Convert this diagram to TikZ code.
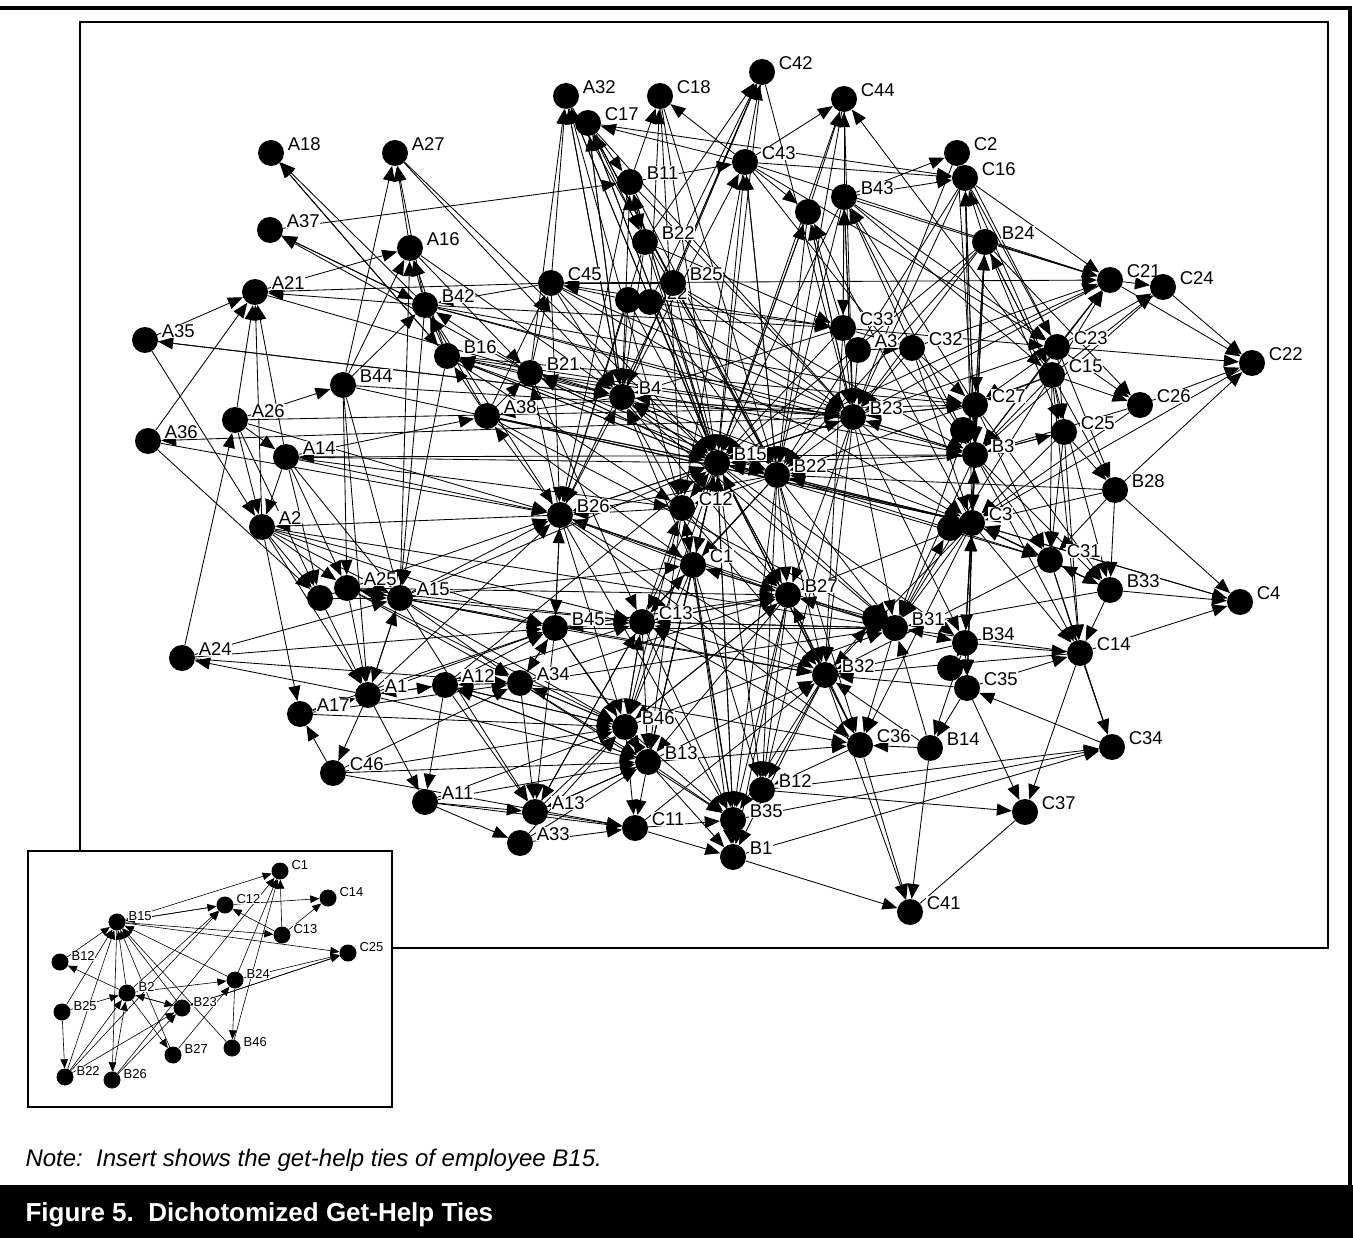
\documentclass[tikz,border=0pt]{standalone}
\usepackage{fontspec}
\setmainfont{Liberation Sans}
\usetikzlibrary{arrows.meta}
\pgfdeclarelayer{edges}
\pgfdeclarelayer{labels}
\pgfsetlayers{edges,labels,main}
% main-graph actor: dot plus a white-backed label to its upper right
\newcommand\mnode[4]{\node[dot] (#1) at (#2,#3) {};%
  \begin{pgfonlayer}{labels}\node[lab] at (#2+16,#3-9) {#4};\end{pgfonlayer}}
% insert actor: smaller dot and label
\newcommand\inode[4]{\node[idot] (#1) at (#2,#3) {};%
  \begin{pgfonlayer}{labels}\node[ilab] at (#2+11,#3-6) {#4};\end{pgfonlayer}}
\begin{document}
\begin{tikzpicture}[x=1pt,y=-1pt,
  dot/.style={circle,fill=black,minimum size=26pt,inner sep=0pt},
  idot/.style={circle,fill=black,minimum size=17pt,inner sep=0pt},
  lab/.style={anchor=west,fill=white,inner sep=0.6pt,font=\fontsize{18.5}{18.5}\selectfont},
  ilab/.style={anchor=west,fill=white,inner sep=0.4pt,font=\fontsize{13}{13}\selectfont},
  tie/.style={line width=0.85pt,-{Triangle[length=15pt,width=12pt]}},
  itie/.style={line width=0.6pt,-{Triangle[length=9pt,width=7.5pt]}}]
\useasboundingbox (0,0) rectangle (1353,1238);

% ---------- main network actors ----------
\mnode{A18}{271}{153}{A18}
\mnode{A27}{395}{153}{A27}
\mnode{A37}{270}{230}{A37}
\mnode{A16}{410}{248}{A16}
\mnode{A21}{255}{292}{A21}
\mnode{B42}{425}{305}{B42}
\mnode{A35}{145}{340}{A35}
\mnode{B16}{447}{356}{B16}
\mnode{B44}{343}{385}{B44}
\mnode{A26}{235}{420}{A26}
\mnode{A36}{148}{441}{A36}
\mnode{A14}{286}{457}{A14}
\mnode{A38}{487}{416}{A38}
\mnode{B21}{530}{373}{B21}
\mnode{C45}{551}{283}{C45}
\mnode{A32}{566}{96}{A32}
\mnode{C17}{588}{123}{C17}
\mnode{C18}{660}{96}{C18}
\mnode{C42}{762}{72}{C42}
\mnode{C44}{844}{99}{C44}
\mnode{B11}{630}{182}{B11}
\mnode{C43}{745}{162}{C43}
\mnode{B43}{844}{197}{B43}
\node[dot] (U1) at (808,212) {};
\mnode{C2}{957}{153}{C2}
\mnode{C16}{965}{178}{C16}
\mnode{B24}{985}{242}{B24}
\mnode{B22}{645}{242}{B22}
\mnode{B25}{673}{283}{B25}
\mnode{X22}{650}{302}{22}
\node[dot] (U2) at (628,300) {};
\mnode{C33}{843}{328}{C33}
\mnode{A31}{858}{350}{A3}
\mnode{C32}{912}{348}{C32}
\mnode{C23}{1057}{347}{C23}
\mnode{C15}{1052}{375}{C15}
\mnode{C21}{1110}{280}{C21}
\mnode{C24}{1163}{287}{C24}
\mnode{C22}{1252}{363}{C22}
\mnode{C26}{1140}{405}{C26}
\mnode{C25}{1064}{432}{C25}
\mnode{C27}{975}{405}{C27}
\node[dot] (U3) at (963,430) {};
\mnode{B23}{853}{417}{B23}
\mnode{B3}{975}{455}{B3}
\mnode{B15}{717}{463}{B15}
\mnode{B2}{777}{475}{B22}
\mnode{B4}{622}{397}{B4}
\mnode{B26}{560}{515}{B26}
\mnode{C12}{682}{508}{C12}
\mnode{C1}{693}{565}{C1}
\mnode{C3}{972}{523}{C3}
\node[dot] (U4) at (950,528) {};
\mnode{B28}{1115}{490}{B28}
\mnode{C31}{1050}{560}{C31}
\mnode{B33}{1110}{590}{B33}
\mnode{C4}{1240}{602}{C4}
\mnode{C14}{1080}{653}{C14}
\mnode{C34}{1112}{747}{C34}
\mnode{C37}{1025}{812}{C37}
\mnode{C41}{910}{912}{C41}
\mnode{B14}{930}{748}{B14}
\mnode{C36}{860}{745}{C36}
\mnode{C35}{967}{688}{C35}
\node[dot] (U5) at (950,668) {};
\mnode{B34}{965}{643}{B34}
\mnode{B31}{895}{628}{B31}
\node[dot] (U6) at (875,618) {};
\mnode{B32}{825}{675}{B32}
\mnode{B27}{788}{595}{B27}
\mnode{C13}{642}{622}{C13}
\mnode{B45}{555}{628}{B45}
\mnode{A34}{520}{683}{A34}
\mnode{A12}{445}{685}{A12}
\mnode{B46}{625}{727}{B46}
\mnode{B13}{648}{762}{B13}
\mnode{B12}{762}{790}{B12}
\mnode{B35}{733}{820}{B35}
\mnode{B1}{733}{857}{B1}
\mnode{C11}{635}{828}{C11}
\mnode{A13}{535}{812}{A13}
\mnode{A33}{520}{843}{A33}
\mnode{A11}{425}{802}{A11}
\mnode{C46}{333}{773}{C46}
\mnode{A17}{300}{714}{A17}
\mnode{A1}{368}{695}{A1}
\mnode{A24}{182}{658}{A24}
\mnode{A15}{400}{598}{A15}
\mnode{A25}{347}{588}{A25}
\node[dot] (U7) at (320,598) {};
\mnode{A2}{262}{527}{A2}

% ---------- insert actors ----------
\inode{iC1}{280}{871}{C1}
\inode{iC14}{328}{898}{C14}
\inode{iC12}{225}{905}{C12}
\inode{iB15}{117}{922}{B15}
\inode{iC13}{282}{935}{C13}
\inode{iC25}{348}{953}{C25}
\inode{iB12}{60}{962}{B12}
\inode{iB24}{235}{980}{B24}
\inode{iB2}{127}{993}{B2}
\inode{iB25}{62}{1012}{B25}
\inode{iB23}{182}{1008}{B23}
\inode{iB27}{173}{1055}{B27}
\inode{iB46}{232}{1048}{B46}
\inode{iB22}{65}{1077}{B22}
\inode{iB26}{112}{1080}{B26}

\begin{pgfonlayer}{edges}
% frames
\draw[line width=1.3pt] (80,22) rectangle (1328,948);
\draw[line width=1.8pt,fill=white] (28,851) rectangle (392,1107);

% get-help ties, arrow at the actor asked for help
\foreach \fa/\fb in {
 B42/A18, B16/A18, A16/A27, B44/A27, B42/A27, A27/B4, A37/B11, B42/A37, B21/A37,
 A21/A16, B42/A16, B44/A16, B16/A16, A15/A16, B42/A21, C45/A21, A26/A21, A36/A21,
 A14/A21, A2/A21, A35/A21, B4/A35, A35/A2, B23/A36, A36/U7, A26/B44, A26/A2, A26/A14,
 A24/A26, A26/C27, B15/A14, A14/A2, B26/A2, A2/A17, A2/A1, A1/A24, A24/A15, A24/B45,
 C46/A17, A1/C46, A17/A1, C46/B13, C46/C11, A1/A11, A11/A33, A12/A11, A11/A13,
 A1/A12, B46/A12, A34/A12, B13/A12, B45/A34, B46/A34, A15/A34, A25/A34, B45/A13,
 A34/A13, A12/A13, B13/A13, C13/A13, A15/A13, A33/C11, A33/B13, B13/C11, A13/C11,
 B46/C11, B13/B35, B46/B35, C13/B35, B27/B35, B32/B35, A34/B35, C1/B35, B15/B35,
 C12/B35, B26/B35, B35/B1, C11/B1, B13/B1, B27/B1, B32/B1, C1/B1, B32/B12, C36/B12,
 B27/B12, C1/B12, B15/B12, B2/B12, B12/C37, B12/C34, B35/C34, B1/C41, B1/C34,
 C36/C41, B14/C41, B32/C41, B32/C36, B31/C36, C3/C36, B15/C36, A34/C36, C35/B14,
 B34/B14, B14/C36, B34/C35, C3/C35, B3/C35, C35/C37, C35/C14, B31/B34, C3/B34,
 B3/B34, B23/B34, B15/B34, B2/B31, B23/B31, B15/B31, C3/B31, B27/B31, C13/B31,
 B4/B31, B15/B32, B2/B32, C12/B32, B26/B32, B23/B32, C33/B32, B33/C14, C3/C14,
 B3/C14, C31/C14, C25/C14, C15/C14, B34/C14, C14/C37, C14/C34, C14/C4, B28/B33,
 C31/B33, B33/C31, C3/B33, C27/B33, C15/B33, B3/B33, B33/C4, C3/C31, B3/C31,
 C15/C31, C27/C31, B2/C31, B15/C31, C31/C34, C3/C4, C15/B28, C25/B28, C23/B28,
 B28/C4, B28/C22, C15/C26, C23/C26, B24/C26, C26/C22, C15/C25, C23/C25, B24/C25,
 B3/C25, B24/C15, B43/C15, C16/C15, C43/C23, C33/C23, B43/C23, C16/C23, B43/C21,
 C16/C21, B24/C21, C43/C21, C15/C21, C23/C21, C32/C21, C45/C21, C21/C24, C23/C24,
 C15/C24, C21/C22, C24/C22, C23/C22, C3/B24, B3/B24, C27/B24, C15/B24, B24/C16,
 B43/C2, B43/C16, C43/C16, C17/C16, C3/C16, B3/C16, C23/C2, C43/C44, B43/C44,
 C15/C44, U1/C44, C43/C42, B25/C42, X22/C42, B22/C42, B4/C42, B15/C43, B4/C43,
 B11/C43, B2/C43, C43/C17, C43/C18, C43/U1, C33/U1, B23/U1, B15/U1, C3/U1, C33/B43,
 C32/B43, B23/B43, C27/B43, B43/C33, C45/C33, B42/C33, B15/C17, B4/C17, B2/C17,
 B25/C17, B21/A32, C45/A32, B4/A32, B15/A32, B11/C18, X22/C18, C17/B11, B22/B11,
 B15/B11, B4/B11, B11/B22, C17/B22, U2/C45, B25/C45, B21/C45, A38/C45, C45/B42,
 B16/B42, B44/B42, A38/B42, B21/B42, B21/B16, A38/B16, B4/B16, B15/B16, B26/A38,
 B4/A38, A14/A38, B4/B21, B15/B21, B26/B21, A38/B21, B15/B4, B26/B4, B2/B4, C12/B4,
 B23/B4, C33/B4, C1/B4, C12/B26, B15/B26, B2/B26, C1/B26, B45/B26, A15/B26, A14/B26,
 B15/C12, C1/C12, B2/C12, C13/C12, B15/C1, C12/C1, B2/C1, C13/C1, B27/C1, B15/C13,
 B2/C13, C1/C13, B45/C13, B46/C13, B32/C13, B31/C13, B27/C13, A15/C13, A15/B45,
 A25/B45, A34/B45, C13/B45, B26/B45, A25/A15, U7/A15, A1/A15, B44/A15, A14/A15,
 A2/A15, B42/A15, B16/A15, A15/A25, A14/A25, A2/A25, B44/A25, A2/U7, A14/U7, A26/U7,
 A15/A1, A25/A1, U7/A1, A12/A1, B44/A1, A34/B46, A15/B46, B45/B46, B13/B46,
 C13/B46, B26/B46, A25/B46, B46/B13, A34/B13, C13/B13, A12/B13, A1/B13, B45/B13,
 B2/B27, B15/B27, C12/B27, C1/B27, C3/B27, B23/B27, B15/B2, B23/B2, B3/B2, C3/B2,
 B4/B2, B23/B15, B3/B15, C3/B15, C12/B15, B26/B15, B4/B15, A38/B15, B21/B15,
 B16/B15, A15/B15, C33/B15, C17/B15, B11/B15, B22/B15, B25/B15, B2/B15, C1/B15,
 B27/B15, B32/B15, B35/B15, A12/B15, B13/B15, C45/B15, A32/B15, C33/B23, B15/B23,
 A31/B23, C32/B23, C27/B23, B3/B23, B24/B23, B43/B23, C45/B23, B42/B23, C27/B3,
 C3/B3, B23/B3, C32/B3, C15/B3, C25/B3, B24/B3, C32/C27, C15/C27, C23/C27, B24/C27,
 B23/C27, B3/C3, B2/C3, B15/C3, C31/C3, B23/C3, B34/C3, C35/C3, C27/C3, A31/C32,
 C33/C32, C33/A31, U3/B3, C27/U3, U4/C3, C3/U4, B31/U4, U5/C35, B34/U5, U6/B31,
 B32/U6, X22/B15, U2/B15, B25/B23, X22/B23, U2/C33, B22/C33, B25/B3, B4/C3,
 A14/B3, A2/B31, A2/C13, A25/B27, A15/C1, A15/B32, B44/B23, B44/C3, B16/B23,
 B16/C27, B42/B3, A38/B31, A38/C3, B21/B23, B21/B3, B26/B31, B26/C36, B45/B32,
 B45/B31, A34/B31, A34/B27, B46/B31, B46/B27, B13/B32, B13/C36, C11/B32, A13/B46,
 A13/C13, A33/B46, A11/B13, A11/B46, A12/B45, A12/C13, A1/B45, A1/B26, A17/B45,
 A17/A34, C46/A34, B22/B4, B22/B26, B25/B26, B25/B2, X22/B2, U2/B26, U2/B4,
 C45/B26, C45/B4, B11/B26, B11/B2, C17/B4, C17/B2, A32/B4, A32/C12, C18/C12,
 C18/B2, C42/B15, C42/B4, C44/B23, C44/B2, C43/B2, C43/C12, B43/B2, B43/B15,
 U1/B15, U1/B2, C2/B23, C16/B3, C16/B2, B24/B2, B24/B15, C21/B23, C21/B15,
 C23/B15, C15/B2, C15/B31, C26/C3, C25/C31, B28/C3, B28/B2, B33/B31, C14/B31,
 C14/B32, C34/C35, C31/B32, C3/B32, B34/B32, C35/B32, B31/B27, U6/B27, B32/B27,
 C36/B27, B14/B31, C36/C13, B14/B32, B3/B31, C27/B31, B23/B12, B2/B35, B2/C36,
 B15/B46, B15/B13, C12/B13, C12/B46, C1/B46, C1/B13, B27/B13, B27/B46, B42/B26,
 B16/C12, A38/C1, B21/C13, A36/B26, A35/B4, A21/B4, A16/B21, A16/B4, A27/B15,
 A18/B16, A37/B42, A26/B26, A14/C12, A2/B45, A25/C13, U7/B26, A24/A34, A17/B46,
 C46/B46, A11/C11, A12/B46, C11/B35, A13/B13, C13/B27, B26/B27, B45/B27, B4/B23,
 B4/B27, B21/B2, A38/B2, B16/B2, C45/C3, B42/C27, B11/B23, C17/B23, A32/B2,
 C18/B15, C42/B23, C44/B15, C43/B3, B43/B3, U1/B23, C2/B3, C16/B23, B24/C3,
 C21/B3, C24/B3, C22/C3, C26/B3, C25/C3, B28/C31, C4/C3, C23/B3, C32/C3}
  \draw[tie] (\fa) -- (\fb);
\draw[line width=0.85pt] (C41) -- (C37);

% ties of B15 and its contacts
\foreach \fa/\fb in {
 iB15/iC1, iB15/iC12, iC12/iB15, iB15/iC13, iB15/iC25, iB12/iB15, iB25/iB15,
 iB22/iB15, iB2/iB15, iB23/iB15, iB27/iB15, iB24/iB15, iB46/iB15, iB15/iB26,
 iC13/iC12, iC13/iC14, iC13/iC1, iC12/iC14, iB2/iB12, iB2/iB24, iB2/iB23, iB23/iB2,
 iB2/iB27, iB2/iC12, iB25/iB2, iB25/iB22, iB22/iB2, iB22/iC12, iB26/iB23, iB26/iC1,
 iB24/iC25, iB23/iC25, iC25/iB23, iB24/iB46, iB46/iC1, iB27/iB24, iB22/iB23,
 iB24/iC1, iB26/iB2}
  \draw[itie] (\fa) -- (\fb);
\end{pgfonlayer}

% ---------- page furniture ----------
\draw[line width=4pt] (0,8) -- (1350,8) -- (1350,1185);
\node[anchor=west,font=\fontsize{24}{24}\selectfont\itshape] at (22,1160)
  {Note:\ \ Insert shows the get-help ties of employee B15.};
\fill[black] (0,1185) rectangle (1353,1238);
\node[anchor=west,text=white,font=\fontsize{26}{26}\selectfont\bfseries] at (22,1215)
  {Figure 5.\ \ Dichotomized Get-Help Ties};
\end{tikzpicture}
\end{document}
